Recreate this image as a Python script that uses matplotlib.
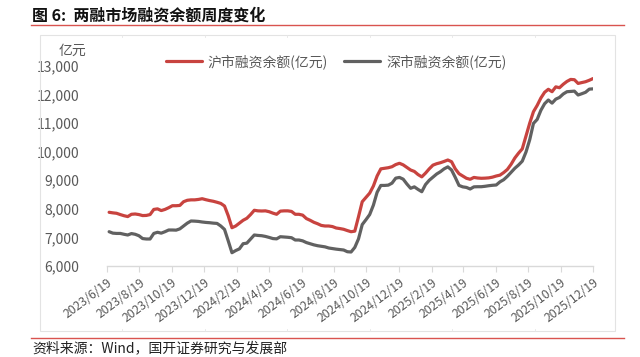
import matplotlib
matplotlib.use("Agg")
import matplotlib.pyplot as plt
import matplotlib.dates as mdates
from matplotlib.lines import Line2D
from matplotlib.patches import Rectangle
import pandas as pd

plt.rcParams['font.family'] = ['Noto Sans CJK SC', 'DejaVu Sans']

title = "图 6:  两融市场融资余额周度变化"
source = "资料来源：Wind，国开证券研究与发展部"
unit_label = "亿元"
series_names = ["沪市融资余额(亿元)", "深市融资余额(亿元)"]

start_date = "2023-06-23"
n_weeks = 131

sh_values = [
    7880, 7860, 7845, 7800, 7760, 7730, 7810, 7820, 7800, 7765,
    7770, 7800, 7980, 8000, 7940, 7980, 8040, 8110, 8110, 8120,
    8250, 8300, 8315, 8315, 8330, 8355, 8320, 8290, 8265, 8230,
    8190, 8100, 7760, 7340, 7400, 7500, 7600, 7670, 7800, 7950,
    7930, 7925, 7930, 7900, 7850, 7810, 7920, 7930, 7930, 7910,
    7810, 7810, 7780, 7660, 7600, 7530, 7480, 7420, 7400, 7400,
    7380, 7330, 7310, 7285, 7240, 7200, 7220, 7725, 8250, 8400,
    8550, 8800, 9150, 9400, 9420, 9440, 9475, 9550, 9595, 9540,
    9450, 9360, 9310, 9200, 9120, 9250, 9400, 9530, 9580, 9615,
    9660, 9710, 9650, 9400, 9230, 9150, 9070, 9035, 9100, 9080,
    9070, 9075, 9085, 9110, 9150, 9180, 9270, 9380, 9560, 9780,
    9950, 10100, 10550, 11000, 11400, 11620, 11880, 12080, 12185, 12100,
    12270, 12240, 12360, 12460, 12530, 12520, 12390, 12420, 12450, 12500,
    12560,
]

sz_values = [
    7200, 7150, 7140, 7140, 7110, 7085, 7135, 7110, 7060, 6960,
    6945, 6945, 7140, 7180, 7150, 7200, 7260, 7260, 7255, 7300,
    7400, 7500, 7575, 7570, 7560, 7540, 7525, 7515, 7500, 7490,
    7400, 7280, 6880, 6465, 6540, 6600, 6780, 6800, 6940, 7085,
    7070, 7060, 7035, 7000, 6960, 6950, 7025, 7015, 7005, 6990,
    6910, 6910, 6880, 6820, 6780, 6740, 6710, 6690, 6670, 6630,
    6610, 6590, 6575, 6560, 6500, 6490, 6650, 6950, 7450, 7620,
    7800, 8130, 8580, 8820, 8820, 8830, 8900, 9075, 9100, 9040,
    8870, 8720, 8770, 8680, 8600, 8850, 9000, 9110, 9220, 9300,
    9400, 9470, 9360, 9100, 8820, 8770, 8750, 8695, 8770, 8775,
    8775, 8790, 8810, 8825, 8835, 8945, 9020, 9140, 9280, 9420,
    9535, 9670, 9990, 10420, 10990, 11130, 11450, 11680, 11810, 11700,
    11840, 11900, 12020, 12100, 12110, 12120, 11985, 12030, 12080, 12190,
    12200,
]

tick_dates = ["2023-06-19", "2023-08-19", "2023-10-19", "2023-12-19",
              "2024-02-19", "2024-04-19", "2024-06-19", "2024-08-19",
              "2024-10-19", "2024-12-19", "2025-02-19", "2025-04-19",
              "2025-06-19", "2025-08-19", "2025-10-19", "2025-12-19"]
tick_labels = ["2023/6/19", "2023/8/19", "2023/10/19", "2023/12/19",
               "2024/2/19", "2024/4/19", "2024/6/19", "2024/8/19",
               "2024/10/19", "2024/12/19", "2025/2/19", "2025/4/19",
               "2025/6/19", "2025/8/19", "2025/10/19", "2025/12/19"]
y_ticks = [6000, 7000, 8000, 9000, 10000, 11000, 12000, 13000]

dates = pd.date_range(start_date, periods=n_weeks, freq="7D")

RED = "#C8433F"
GRAY = "#616161"
TXT = "#595959"
LIGHT = "#D9D9D9"

fig = plt.figure(figsize=(6.4, 3.57), dpi=100)
W, H = 640, 357

def fx(px):
    return px / W

def fy(py):
    return 1 - py / H

# Frame box
fig.patches.append(Rectangle((fx(39.5), fy(331)), fx(615) - fx(39.5), fy(34.5) - fy(331),
                             transform=fig.transFigure, fill=False, edgecolor="#E3E3E3",
                             linewidth=0.8, zorder=0))
for xx in [122, 204.5, 287, 369.5, 452, 534.5]:
    fig.add_artist(Line2D([fx(xx), fx(xx)], [fy(34.5), fy(37)], color="#E6E6E6", lw=0.6))
    fig.add_artist(Line2D([fx(xx), fx(xx)], [fy(328.5), fy(331)], color="#E6E6E6", lw=0.6))

# Red rules
fig.add_artist(Line2D([fx(31), fx(624)], [fy(24.5), fy(24.5)], color="#D9534F", lw=1.0))
fig.add_artist(Line2D([fx(31), fx(624)], [fy(337.5), fy(337.5)], color="#D9534F", lw=1.0))

# Title & source
fig.text(fx(32), fy(15), title, fontsize=11.5, fontweight="bold", color="#111111",
         va="center", ha="left")
fig.text(fx(32), fy(348), source, fontsize=10, color="#222222", va="center", ha="left")

ax = fig.add_axes([fx(107), fy(266), fx(593) - fx(107), fy(66) - fy(266)])
ax.plot(dates, sh_values, color=RED, lw=2.3, solid_joinstyle="round",
        solid_capstyle="round", label=series_names[0])
ax.plot(dates, sz_values, color=GRAY, lw=2.3, solid_joinstyle="round",
        solid_capstyle="round", label=series_names[1])

ax.set_ylim(6000, 13000)
ax.set_xlim(pd.Timestamp(tick_dates[0]), pd.Timestamp(tick_dates[-1]))
ax.set_yticks(y_ticks)
ax.set_yticklabels([f"{v:,}" for v in y_ticks])
ax.set_xticks([mdates.date2num(pd.Timestamp(d)) for d in tick_dates])
ax.set_xticklabels(tick_labels, rotation=37, ha="right", rotation_mode="anchor")

for s in ["top", "right", "left"]:
    ax.spines[s].set_visible(False)
ax.spines["bottom"].set_color(LIGHT)
ax.spines["bottom"].set_linewidth(1.0)
ax.tick_params(axis="y", length=0, pad=20, labelsize=10, labelcolor=TXT)
ax.tick_params(axis="x", length=4, width=0.8, color=LIGHT, pad=3, labelsize=8.8,
               labelcolor=TXT, direction="out")
ax.patch.set_alpha(0)

ax.text(fx(86) , fy(51), unit_label, transform=fig.transFigure, fontsize=10,
        color=TXT, ha="right", va="center")

leg = ax.legend(loc="center", bbox_to_anchor=(fx(336), fy(61.5)),
                bbox_transform=fig.transFigure, ncol=2, frameon=False,
                fontsize=10, handlelength=2.6, handletextpad=0.4, columnspacing=1.2)
for t in leg.get_texts():
    t.set_color(TXT)

fig.savefig("out.png", dpi=100)
